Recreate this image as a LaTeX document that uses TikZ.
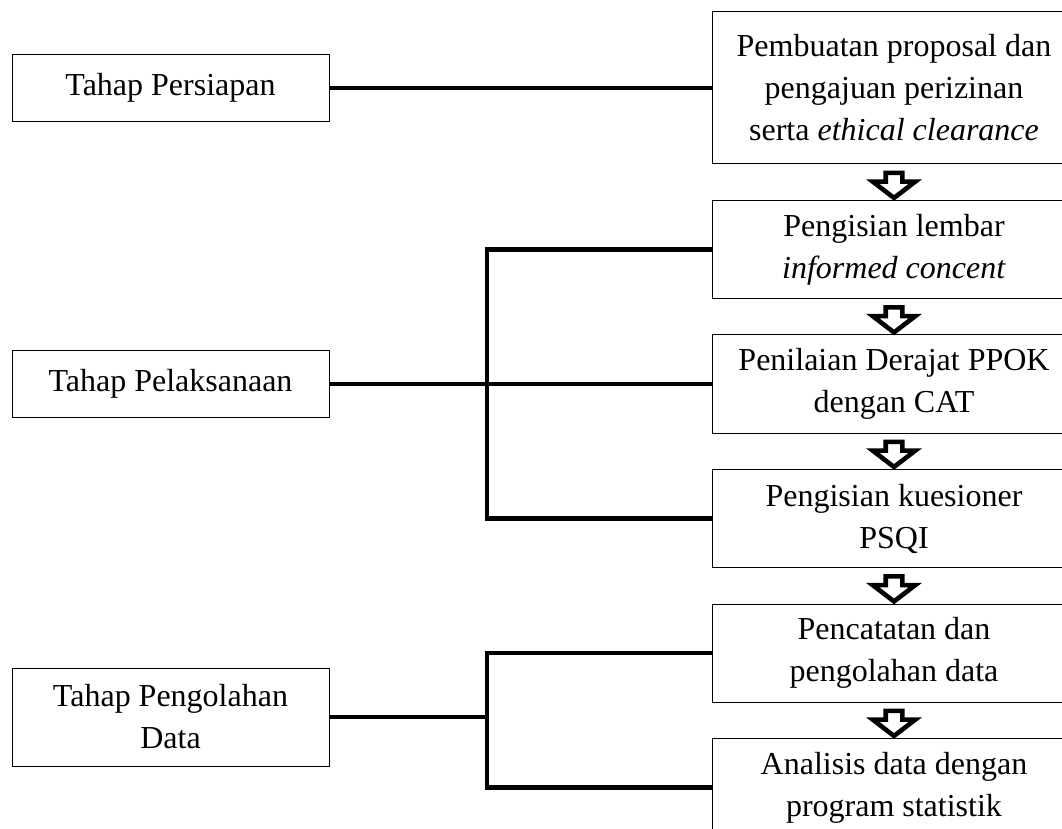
\documentclass[tikz,border=0pt]{standalone}
\usepackage{fontspec}
\setmainfont{Liberation Serif}
\usetikzlibrary{shapes.arrows, positioning, calc}

\begin{document}
\begin{tikzpicture}[
    x=0.5pt, y=-0.5pt,
    node distance=17.75pt, % Spacing between step boxes
    phase/.style={draw, line width=0.5pt, minimum width=158.5pt, minimum height=33.5pt,
        align=center, font=\fontsize{16}{21}\selectfont},
    stepbox/.style={draw, line width=0.5pt, minimum width=182pt, minimum height=49pt,
        inner sep=0pt, align=center, font=\fontsize{16}{21}\selectfont},
    link/.style={line width=2.4pt}, % Thick connectors
    flow/.style={single arrow, draw, fill=white, line width=2.3pt, shape border rotate=270,
        inner sep=3pt, single arrow head extend=6.5pt, single arrow tip angle=105,
        minimum height=12.5pt}
]
    \useasboundingbox (0,0) rectangle (1062,829);

    % Steps column
    \node (b1) [stepbox, minimum height=76pt] at (894,88)
        {Pembuatan proposal dan\\pengajuan perizinan\\serta \textit{ethical clearance}};
    \node (b2) [stepbox, below=of b1] {Pengisian lembar\\\textit{informed concent}};
    \node (b3) [stepbox, below=of b2] {Penilaian Derajat PPOK\\dengan CAT};
    \node (b4) [stepbox, below=of b3] {Pengisian kuesioner\\PSQI};
    \node (b5) [stepbox, below=of b4] {Pencatatan dan\\pengolahan data};
    \node (b6) [stepbox, below=of b5] {Analisis data dengan\\program statistik};

    % Phases column
    \coordinate (leftcol) at (170.5,0);
    \node (tpers) [phase] at (leftcol |- b1) {Tahap Persiapan};
    \node (tpel)  [phase] at (leftcol |- b3) {Tahap Pelaksanaan};
    \node (tpeng) [phase, minimum height=49pt] at (170.5,717) {Tahap Pengolahan\\Data};

    % Arrows between steps
    \node (a1) [flow] at ($(b1.south)!0.5!(b2.north)$) {};
    \node (a2) [flow] at ($(b2.south)!0.5!(b3.north)$) {};
    \node (a3) [flow] at ($(b3.south)!0.5!(b4.north)$) {};
    \node (a4) [flow] at ($(b4.south)!0.5!(b5.north)$) {};
    \node (a5) [flow] at ($(b5.south)!0.5!(b6.north)$) {};

    % Connectors
    \coordinate (bus) at (487,0);
    \draw[link] (tpers.east) -- (b1.west);
    \draw[link] (tpel.east) -- (b3.west);
    \draw[link] (b2.west) -- (b2.west -| bus) -- (b4.west -| bus) -- (b4.west);
    \draw[link] (tpeng.east) -- (tpeng.east -| bus);
    \draw[link] (b5.west) -- (b5.west -| bus) -- (b6.west -| bus) -- (b6.west);

\end{tikzpicture}
\end{document}
